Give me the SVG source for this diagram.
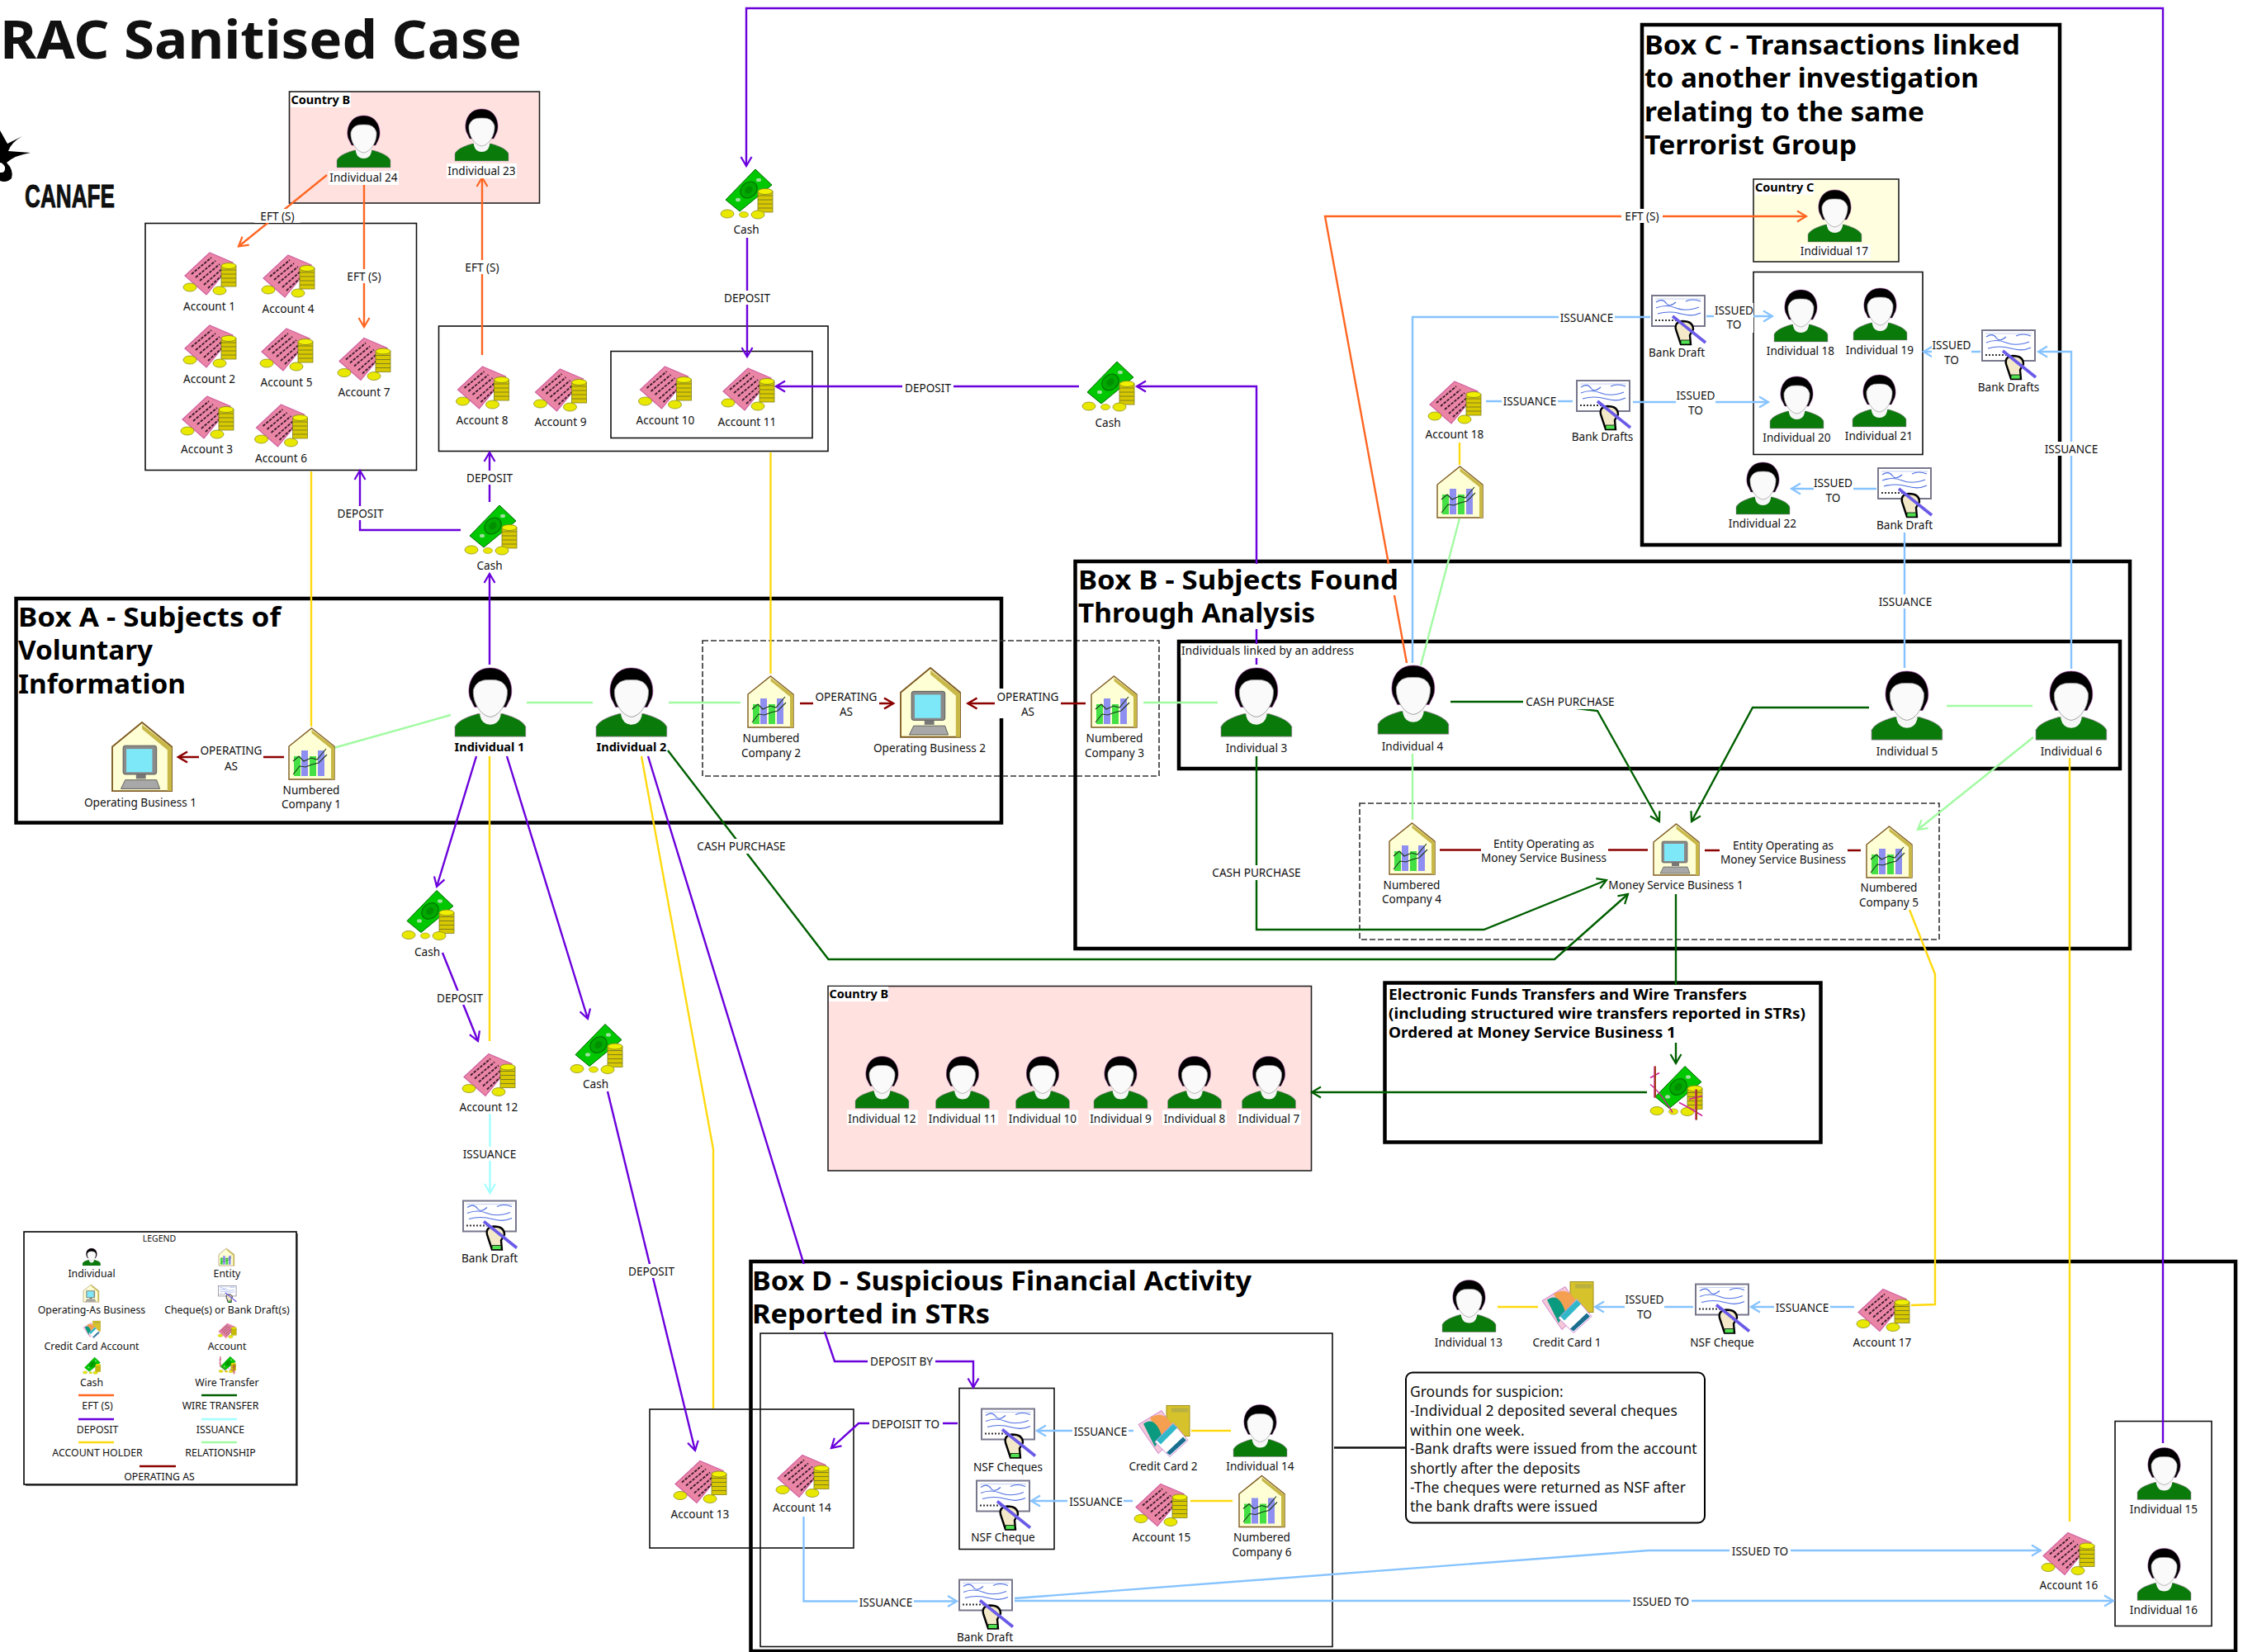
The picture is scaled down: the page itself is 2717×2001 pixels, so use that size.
<svg xmlns="http://www.w3.org/2000/svg" width="2717" height="2001" viewBox="0 0 2717 2001">
<style>
text{font-family:"Noto Sans","DejaVu Sans",sans-serif;fill:#111}
.l{font-size:13.6px;text-anchor:middle}
.lg{font-size:12.3px;text-anchor:middle}
.h{font-size:32px;font-weight:700;fill:#000}
.b{font-size:14.5px;font-weight:700;fill:#000}
.e{font-size:18px;font-weight:700;fill:#000}
.g{font-size:17.500px}
.bg{fill:#fff;stroke:none}
.box{fill:none;stroke:#111;stroke-width:1.6}
.big{fill:none;stroke:#000;stroke-width:4.5}
.dash{fill:none;stroke:#333;stroke-width:1.6;stroke-dasharray:7 3}
.pink{fill:#ffe2df;stroke:#222;stroke-width:1.6}
.c{fill:none;stroke-width:2.4;stroke-linejoin:miter}
.or{stroke:#ff6622}.pu{stroke:#6a00dc}.bl{stroke:#86c3ff}.cy{stroke:#a4ffff}.gr{stroke:#005f00}.re{stroke:#8b0000}.lgn{stroke:#a2fba2}.ye{stroke:#ffd90f}
</style>
<defs>
<marker id="m-or" markerUnits="userSpaceOnUse" markerWidth="18" markerHeight="18" refX="15" refY="9" orient="auto"><path d="M4 2.500L15 9L4 15.500" fill="none" stroke="#ff6622" stroke-width="2.200"/></marker>
<marker id="m-pu" markerUnits="userSpaceOnUse" markerWidth="18" markerHeight="18" refX="15" refY="9" orient="auto"><path d="M4 2.500L15 9L4 15.500" fill="none" stroke="#6a00dc" stroke-width="2.200"/></marker>
<marker id="m-bl" markerUnits="userSpaceOnUse" markerWidth="18" markerHeight="18" refX="15" refY="9" orient="auto"><path d="M4 2.500L15 9L4 15.500" fill="none" stroke="#86c3ff" stroke-width="2.200"/></marker>
<marker id="m-cy" markerUnits="userSpaceOnUse" markerWidth="18" markerHeight="18" refX="15" refY="9" orient="auto"><path d="M4 2.500L15 9L4 15.500" fill="none" stroke="#a4ffff" stroke-width="2.200"/></marker>
<marker id="m-gr" markerUnits="userSpaceOnUse" markerWidth="18" markerHeight="18" refX="15" refY="9" orient="auto"><path d="M4 2.500L15 9L4 15.500" fill="none" stroke="#005f00" stroke-width="2.200"/></marker>
<marker id="m-re" markerUnits="userSpaceOnUse" markerWidth="18" markerHeight="18" refX="15" refY="9" orient="auto"><path d="M4 2.500L15 9L4 15.500" fill="none" stroke="#8b0000" stroke-width="2.600"/></marker>
<marker id="m-lg" markerUnits="userSpaceOnUse" markerWidth="18" markerHeight="18" refX="15" refY="9" orient="auto"><path d="M4 2.500L15 9L4 15.500" fill="none" stroke="#a2fba2" stroke-width="2.200"/></marker>
<g id="person">
<path d="M0 63V54Q3 47 21 42L44 42Q62 47 65 54V63Z" fill="#0a7a0a" stroke="#b080b0" stroke-width=".5"/>
<path d="M23 36V44Q25 52 32.500 52Q40 52 42 44V36Z" fill="#f6f6f6"/>
<path d="M15 30C10 22 13 0 32.500 0C52 0 55 22 50 30L47 36H18Z" fill="#000" stroke="#a040a0" stroke-width=".5"/>
<path d="M17 20Q20 10 32.500 11Q45 10 48 20C49 32 41 44 32.500 45C24 44 16 32 17 20Z" fill="#fafafa" stroke="#999" stroke-width=".7"/>
</g>
<g id="coin"><ellipse cx="0" cy="0" rx="8" ry="5" fill="#e8e800" stroke="#8f8f20" stroke-width=".8"/></g>
<g id="stack">
<rect x="0" y="3" width="18" height="25" fill="#d8c800" stroke="#808020" stroke-width=".8"/>
<path d="M0 8H18M0 13H18M0 18H18M0 23H18" stroke="#808020" stroke-width="1" fill="none"/>
<ellipse cx="9" cy="3" rx="9" ry="3.500" fill="#f0f000" stroke="#808020" stroke-width=".8"/>
</g>
<g id="account">
<path d="M32 0L60 12L28 51L2 28Z" fill="#ea85a6" stroke="#d060a0" stroke-width="1.200"/>
<path d="M10 26L34 6M15 30L39 10M20 34L44 14M25 39L49 18M30 43L53 22" stroke="#3a1a2a" stroke-width="1.800" stroke-dasharray="3.500 1.500" fill="none"/>
<use href="#stack" x="46" y="13"/>
<use href="#coin" x="8" y="42"/><use href="#coin" x="44" y="46"/>
</g>
<g id="cash">
<path d="M43 0L63 19L24 51L7 37Z" fill="#00c800" stroke="#006a00" stroke-width="1"/>
<ellipse cx="35" cy="25" rx="11" ry="9" transform="rotate(-40 35 25)" fill="#00a800" stroke="#006a00"/>
<ellipse cx="35" cy="25" rx="5" ry="4" transform="rotate(-40 35 25)" fill="#009000"/>
<ellipse cx="47" cy="13" rx="3" ry="2.200" fill="#9fe09f"/><ellipse cx="22" cy="37" rx="3" ry="2.200" fill="#9fe09f"/>
<use href="#stack" x="46" y="24"/>
<use href="#coin" x="9" y="54"/><use href="#coin" transform="translate(29 55) scale(.7)"/><use href="#coin" x="46" y="55"/>
</g>
<g id="house">
<path d="M27.500 0L55 22V62H0V22Z" fill="#ffffd6" stroke="#7d5a20" stroke-width="1.400"/>
<path d="M27.500 2L55 23V62H51V25L27.500 6Z" fill="#c8b848"/>
</g>
<g id="entity">
<use href="#house"/>
<rect x="6" y="34" width="8" height="24" fill="#44e044"/><rect x="15" y="27" width="8" height="31" fill="#8f8ff2"/><rect x="25" y="34" width="8" height="24" fill="#44e044"/><rect x="35" y="27" width="8" height="31" fill="#8f8ff2"/>
<path d="M5 40L12 34L18 40L27 36L34 38L45 25M5 56L13 46L20 47L28 44L36 42L46 32" fill="none" stroke="#1a3a1a" stroke-width="1.100"/>
</g>
<g id="opbiz">
<use href="#house"/>
<rect x="10" y="21" width="31" height="26" rx="2" fill="#8a8a8a" stroke="#444" stroke-width=".6"/>
<rect x="13" y="24" width="24" height="21" fill="#7de8f8"/>
<rect x="22" y="47" width="9" height="4" fill="#777"/>
<path d="M8 60L12 52H41L44 60Z" fill="#a8a8a8" stroke="#444" stroke-width=".6"/>
</g>
<g id="cheque">
<rect x="1" y="1" width="64" height="37" fill="#fff" stroke="#77778c" stroke-width="2"/>
<path d="M5 5H61" stroke="#c4d0f0" stroke-width="1"/>
<path d="M6 9Q14 4 18 10T30 9M42 8Q50 4 60 8M6 16Q18 11 30 16T58 15M8 23Q22 19 36 23T60 22" fill="none" stroke="#4f6fe0" stroke-width="1.200"/>
<path d="M5 31H32" stroke="#333" stroke-width="1.800" stroke-dasharray="2 2"/>
<path d="M36 60L30 42Q28 33 38 32Q51 32 51 42L47 49L48 60Z" fill="#f3e9c8" stroke="#000" stroke-width="2.400"/>
<path d="M36 60V55H47V60Z" fill="#50e050" stroke="#000" stroke-width=".8"/>
<path d="M26 26L66 58" stroke="#6a5ae8" stroke-width="3.600"/>
</g>
<g id="card">
<rect x="36" y="0" width="28" height="37" fill="#d6c22a" stroke="#a09020"/>
<path d="M42 3H62V8H42Z" fill="#b8b040"/>
<path d="M2 23L30 6L50 36L26 58Z" fill="#f5c8d8" stroke="#d080d0"/>
<path d="M16 15Q34 4 44 26L28 36Z" fill="#f4a050"/><path d="M8 22Q22 12 30 36L22 50Z" fill="#0a9a80"/>
<path d="M22 44L44 21L62 42L40 62Z" fill="#fff" stroke="#d080d0"/>
<path d="M24 42L44 22L49 27L29 47Z" fill="#30b8c8"/><path d="M36 57L56 38L60 42L40 60Z" fill="#1a6f90"/>
</g>
<g id="wire">
<use href="#cash" transform="translate(2 0) scale(1)"/>
<path d="M3 14L14 8M8 0V38M3 22Q14 30 30 56M58 28V65M50 40L66 36M38 44Q50 50 66 60" fill="none" stroke="#d0209a" stroke-width="1.500"/>
<path d="M9 0V38M59 28V65" fill="none" stroke="#a0401a" stroke-width="2"/>
</g>
</defs>

<rect width="2717" height="2001" fill="#fff"/>

<g id="regions">
<rect class="pink" x="350.500" y="111" width="303" height="135"/>
<rect class="box" x="176" y="270.500" width="328.500" height="299"/>
<rect class="box" x="531.500" y="395" width="471.500" height="151.500"/>
<rect class="box" x="740" y="425.500" width="244" height="105"/>
<rect class="big" x="19.500" y="725" width="1193.500" height="271.500"/>
<rect class="dash" x="851" y="776" width="553" height="164"/>
<rect class="big" x="1302.500" y="680" width="1277.500" height="469"/>
<rect class="big" x="1428" y="777" width="1140" height="154"/>
<rect class="dash" x="1647" y="973" width="702" height="165"/>
<rect class="big" x="1989" y="30" width="506" height="630"/>
<rect x="2124" y="217" width="176" height="100" fill="#ffffe0" stroke="#222" stroke-width="1.600"/>
<rect class="box" x="2124" y="329.500" width="205" height="221"/>
<rect class="pink" x="1003" y="1194.500" width="585.500" height="223.500"/>
<rect class="big" x="1677.500" y="1190.500" width="528" height="193"/>
<rect class="big" x="909.500" y="1528" width="1798.500" height="472"/>
<rect class="box" x="921" y="1615" width="693" height="379.500"/>
<rect class="box" x="787" y="1707" width="247" height="168"/>
<rect class="box" x="1162" y="1681.500" width="115" height="195"/>
<rect class="box" x="2562" y="1721.500" width="117" height="248"/>
<rect x="1703" y="1662.500" width="362" height="182" rx="8" fill="#fff" stroke="#000" stroke-width="2"/>
</g>

<g id="connectors">
<path class="c or" d="M396 212L289 298.500" marker-end="url(#m-or)"/>
<path class="c or" d="M441 224V396" marker-end="url(#m-or)"/>
<path class="c or" d="M584 430V215" marker-end="url(#m-or)"/>
<path class="c or" d="M1704 803L1605 262H2188" marker-end="url(#m-or)"/>
<path class="c pu" d="M2620 1748V10H904V201" marker-end="url(#m-pu)"/>
<path class="c pu" d="M905 288V432" marker-end="url(#m-pu)"/>
<path class="c pu" d="M1307 468H940" marker-end="url(#m-pu)"/>
<path class="c pu" d="M1522 805V468H1377" marker-end="url(#m-pu)"/>
<path class="c pu" d="M593 608V548" marker-end="url(#m-pu)"/>
<path class="c pu" d="M558 642H436V570" marker-end="url(#m-pu)"/>
<path class="c pu" d="M593 805V695" marker-end="url(#m-pu)"/>
<path class="c pu" d="M577 916L529 1074" marker-end="url(#m-pu)"/>
<path class="c pu" d="M614 916L712 1234" marker-end="url(#m-pu)"/>
<path class="c pu" d="M536 1154L579 1261" marker-end="url(#m-pu)"/>
<path class="c pu" d="M736 1322L842 1757" marker-end="url(#m-pu)"/>
<path class="c pu" d="M785 916L998.500 1612L1011 1649H1179V1680.500" marker-end="url(#m-pu)"/>
<path class="c pu" d="M1160 1724H1053H1040L1007 1754" marker-end="url(#m-pu)"/>
<path class="c ye" d="M377 571V880"/>
<path class="c ye" d="M933.500 548V816"/>
<path class="c ye" d="M593 916V1261"/>
<path class="c ye" d="M777 916L864 1392V1706"/>
<path class="c ye" d="M2313 1102L2344 1180V1580L2315 1581"/>
<path class="c ye" d="M2507 918V1843"/>
<path class="c ye" d="M1768 536V563"/>
<path class="c ye" d="M1443 1733H1491"/>
<path class="c ye" d="M1442 1818H1493"/>
<path class="c ye" d="M1814 1583H1863"/>
<path class="c lgn" d="M404 906L546 866"/>
<path class="c lgn" d="M638 851H718"/>
<path class="c lgn" d="M810 851H897"/>
<path class="c lgn" d="M1385 851H1475"/>
<path class="c lgn" d="M2358 855H2462"/>
<path class="c lgn" d="M1711 913V993"/>
<path class="c lgn" d="M1768 628L1721 806"/>
<path class="c lgn" d="M2463 893L2323 1005" marker-end="url(#m-lg)"/>
<path class="c re" d="M344 917H216" marker-end="url(#m-re)"/>
<path class="c re" d="M969 852H1082" marker-end="url(#m-re)"/>
<path class="c re" d="M1315 852H1172.500" marker-end="url(#m-re)"/>
<path class="c re" d="M1744 1029.500H1996"/>
<path class="c re" d="M2065 1030H2254"/>
<path class="c gr" d="M1757 850H1845L1935 861L2010 995" marker-end="url(#m-gr)"/>
<path class="c gr" d="M2264 857H2123L2049 995" marker-end="url(#m-gr)"/>
<path class="c gr" d="M1522 916V1126H1797.500L1946 1066" marker-end="url(#m-gr)"/>
<path class="c gr" d="M809 909L1003.500 1162H1883L1972 1083" marker-end="url(#m-gr)"/>
<path class="c gr" d="M2030 1083V1288" marker-end="url(#m-gr)"/>
<path class="c gr" d="M1995 1323H1589" marker-end="url(#m-gr)"/>
<path class="c bl" d="M1711 803V384H1999"/>
<path class="c bl" d="M2067 383H2147" marker-end="url(#m-bl)"/>
<path class="c bl" d="M2399 426H2330" marker-end="url(#m-bl)"/>
<path class="c bl" d="M2509 810V426H2469" marker-end="url(#m-bl)"/>
<path class="c bl" d="M2273 592H2170" marker-end="url(#m-bl)"/>
<path class="c bl" d="M2307 645V809"/>
<path class="c bl" d="M1978 487H2142" marker-end="url(#m-bl)"/>
<path class="c bl" d="M1800 486H1905"/>
<path class="c bl" d="M2051 1583H1932" marker-end="url(#m-bl)"/>
<path class="c bl" d="M2246 1583H2121" marker-end="url(#m-bl)"/>
<path class="c bl" d="M1373 1733H1256" marker-end="url(#m-bl)"/>
<path class="c bl" d="M1372 1818H1249" marker-end="url(#m-bl)"/>
<path class="c bl" d="M973.500 1837V1939.500H1159" marker-end="url(#m-bl)"/>
<path class="c bl" d="M1229 1939H2560" marker-end="url(#m-bl)"/>
<path class="c bl" d="M1229 1936L1997 1878H2472" marker-end="url(#m-bl)"/>
<path class="c cy" d="M593.500 1349V1445" marker-end="url(#m-cy)"/>
<path class="c" stroke="#111" d="M1616 1753.500H1703"/>
<g id="connector-labels">
<rect class="bg" x="308" y="253" width="56" height="17"/><text class="l" x="336" y="267">EFT (S)</text>
<rect class="bg" x="413" y="326" width="56" height="17"/><text class="l" x="441" y="340">EFT (S)</text>
<rect class="bg" x="556" y="315" width="56" height="17"/><text class="l" x="584" y="329">EFT (S)</text>
<rect class="bg" x="1964" y="253" width="50" height="17"/><text class="l" x="1989" y="267">EFT (S)</text>
<rect class="bg" x="874" y="352" width="62" height="17"/><text class="l" x="905" y="366">DEPOSIT</text>
<rect class="bg" x="1093" y="461" width="62" height="17"/><text class="l" x="1124" y="475">DEPOSIT</text>
<rect class="bg" x="562" y="570" width="62" height="17"/><text class="l" x="593" y="584">DEPOSIT</text>
<rect class="bg" x="405" y="613" width="62" height="17"/><text class="l" x="436.500" y="627">DEPOSIT</text>
<rect class="bg" x="526" y="1200" width="62" height="17"/><text class="l" x="557" y="1214">DEPOSIT</text>
<rect class="bg" x="758" y="1531" width="62" height="17"/><text class="l" x="789" y="1545">DEPOSIT</text>
<rect class="bg" x="1051" y="1640" width="82" height="17"/><text class="l" x="1092" y="1654">DEPOSIT BY</text>
<rect class="bg" x="1053" y="1716" width="89" height="17"/><text class="l" x="1097" y="1730">DEPOISIT TO</text>
<rect class="bg" x="241" y="899" width="78" height="38"/><text class="l" x="280" y="914">OPERATING</text><text class="l" x="280" y="933">AS</text>
<rect class="bg" x="985" y="834" width="80" height="36"/><text class="l" x="1025" y="849">OPERATING</text><text class="l" x="1025" y="867">AS</text>
<rect class="bg" x="1205" y="834" width="80" height="36"/><text class="l" x="1245" y="849">OPERATING</text><text class="l" x="1245" y="867">AS</text>
<rect class="bg" x="1794" y="1013" width="154" height="36"/><text class="l" x="1870" y="1027">Entity Operating as</text><text class="l" x="1870" y="1044">Money Service Business</text>
<rect class="bg" x="2083" y="1015" width="155" height="36"/><text class="l" x="2160" y="1029">Entity Operating as</text><text class="l" x="2160" y="1046">Money Service Business</text>
<rect class="bg" x="1845" y="841" width="112" height="18"/><text class="l" x="1902" y="855">CASH PURCHASE</text>
<rect class="bg" x="1465" y="1048" width="114" height="18"/><text class="l" x="1522" y="1062">CASH PURCHASE</text>
<rect class="bg" x="841" y="1016" width="114" height="18"/><text class="l" x="898" y="1030">CASH PURCHASE</text>
<rect class="bg" x="1888" y="376" width="68" height="17"/><text class="l" x="1922" y="390">ISSUANCE</text>
<rect class="bg" x="2076" y="367" width="48" height="36"/><text class="l" x="2100.500" y="381">ISSUED</text><text class="l" x="2100.500" y="398">TO</text>
<rect class="bg" x="2340" y="409" width="48" height="36"/><text class="l" x="2364" y="423">ISSUED</text><text class="l" x="2364" y="441">TO</text>
<rect class="bg" x="2475" y="535" width="68" height="17"/><text class="l" x="2509" y="549">ISSUANCE</text>
<rect class="bg" x="2197" y="576" width="48" height="36"/><text class="l" x="2220.500" y="590">ISSUED</text><text class="l" x="2220.500" y="608">TO</text>
<rect class="bg" x="2274" y="720" width="68" height="17"/><text class="l" x="2308" y="734">ISSUANCE</text>
<rect class="bg" x="2030" y="470" width="48" height="36"/><text class="l" x="2054" y="484">ISSUED</text><text class="l" x="2054" y="502">TO</text>
<rect class="bg" x="1819" y="477" width="68" height="17"/><text class="l" x="1853" y="491">ISSUANCE</text>
<rect class="bg" x="1968" y="1565" width="48" height="36"/><text class="l" x="1992" y="1579">ISSUED</text><text class="l" x="1992" y="1597">TO</text>
<rect class="bg" x="2149" y="1575" width="68" height="17"/><text class="l" x="2183" y="1589">ISSUANCE</text>
<rect class="bg" x="1299" y="1725" width="68" height="17"/><text class="l" x="1333" y="1739">ISSUANCE</text>
<rect class="bg" x="1293" y="1810" width="68" height="17"/><text class="l" x="1327.500" y="1824">ISSUANCE</text>
<rect class="bg" x="1039" y="1932" width="68" height="17"/><text class="l" x="1073" y="1946">ISSUANCE</text>
<rect class="bg" x="559" y="1389" width="68" height="17"/><text class="l" x="593" y="1403">ISSUANCE</text>
<rect class="bg" x="1975" y="1931" width="74" height="17"/><text class="l" x="2012" y="1945">ISSUED TO</text>
<rect class="bg" x="2095" y="1870" width="74" height="17"/><text class="l" x="2132" y="1884">ISSUED TO</text>
</g>
</g>

<g id="titles">
<text x="0" y="71" font-size="64" font-weight="700" fill="#000" textLength="632" lengthAdjust="spacingAndGlyphs">RAC Sanitised Case</text>
<g id="logo"><path d="M0 158L9 174L27 165Q14 172 10 183L37 185Q18 188 8 197Q17 206 14 216Q8 222 0 219V209Q7 210 6 202Q3 197 0 197Z" fill="#000"/>
<text x="30" y="251" font-size="38" font-weight="700" fill="#000" style="font-family:'Liberation Sans',sans-serif" stroke="#000" stroke-width=".8" textLength="109" lengthAdjust="spacingAndGlyphs">CANAFE</text></g>
<g id="box-a-title"><text class="h" x="22" y="759" textLength="318" lengthAdjust="spacingAndGlyphs">Box A - Subjects of</text><text class="h" x="22" y="799" textLength="163" lengthAdjust="spacingAndGlyphs">Voluntary</text><text class="h" x="22" y="840" textLength="203" lengthAdjust="spacingAndGlyphs">Information</text></g>
<g id="box-b-title"><rect class="bg" x="1305" y="683" width="392" height="38"/><rect class="bg" x="1305" y="721" width="294" height="41"/><text class="h" x="1306" y="714" textLength="388" lengthAdjust="spacingAndGlyphs">Box B - Subjects Found</text><text class="h" x="1306" y="754" textLength="287" lengthAdjust="spacingAndGlyphs">Through Analysis</text>
<rect class="bg" x="1430" y="780" width="212" height="17"/><text x="1431" y="793" font-size="13.600" textLength="209">Individuals linked by an address</text></g>
<g id="box-c-title"><text class="h" x="1992" y="66" textLength="455" lengthAdjust="spacingAndGlyphs">Box C - Transactions linked</text><text class="h" x="1992" y="106" textLength="405" lengthAdjust="spacingAndGlyphs">to another investigation</text><text class="h" x="1992" y="147" textLength="339" lengthAdjust="spacingAndGlyphs">relating to the same</text><text class="h" x="1992" y="187" textLength="257" lengthAdjust="spacingAndGlyphs">Terrorist Group</text></g>
<g id="box-d-title"><rect class="bg" x="912" y="1531" width="606" height="82"/><text class="h" x="911" y="1563" textLength="605" lengthAdjust="spacingAndGlyphs">Box D - Suspicious Financial Activity</text><text class="h" x="911" y="1603" textLength="288" lengthAdjust="spacingAndGlyphs">Reported in STRs</text></g>
<g id="eft-title"><rect class="bg" x="1680" y="1193" width="522" height="70"/><text class="e" x="1682" y="1211" textLength="434" lengthAdjust="spacingAndGlyphs">Electronic Funds Transfers and Wire Transfers</text><text class="e" x="1682" y="1234" textLength="505" lengthAdjust="spacingAndGlyphs">(including structured wire transfers reported in STRs)</text><text class="e" x="1682" y="1257" textLength="348" lengthAdjust="spacingAndGlyphs">Ordered at Money Service Business 1</text></g>
<rect class="bg" x="352" y="112" width="73" height="18"/><text class="b" x="352.500" y="125.500">Country B</text>
<rect class="bg" x="1004" y="1195" width="72" height="18"/><text class="b" x="1004.500" y="1209">Country B</text>
<rect class="bg" x="2125" y="218" width="72" height="18"/><text class="b" x="2126" y="232">Country C</text>
<g id="grounds"><text class="g" x="1708" y="1691.500">Grounds for suspicion:</text><text class="g" x="1708" y="1714.500">-Individual 2 deposited several cheques</text><text class="g" x="1708" y="1738.500">within one week.</text><text class="g" x="1708" y="1760.500">-Bank drafts were issued from the account</text><text class="g" x="1708" y="1784.500">shortly after the deposits</text><text class="g" x="1708" y="1807.500">-The cheques were returned as NSF after</text><text class="g" x="1708" y="1830.500">the bank drafts were issued</text></g>
</g>

<g id="nodes">
<g id="ind1"><use href="#person" transform="translate(551 809) scale(1.32)"/><text class="b" x="593" y="910" text-anchor="middle">Individual 1</text></g>
<g id="ind2"><use href="#person" transform="translate(722 809) scale(1.32)"/><text class="b" x="765" y="910" text-anchor="middle">Individual 2</text></g>
<g id="ind3"><use href="#person" transform="translate(1479 809) scale(1.32)"/><text class="l" x="1522" y="910.500">Individual 3</text></g>
<g id="ind4"><use href="#person" transform="translate(1669 806) scale(1.32)"/><text class="l" x="1711" y="908.500">Individual 4</text></g>
<g id="ind5"><use href="#person" transform="translate(2267 813) scale(1.32)"/><text class="l" x="2310" y="914.500">Individual 5</text></g>
<g id="ind6"><use href="#person" transform="translate(2466 813) scale(1.32)"/><text class="l" x="2509" y="914.500">Individual 6</text></g>
<g id="ind17"><use href="#person" x="2190" y="230"/><rect class="bg" x="2180" y="296" width="86" height="17"/><text class="l" x="2222" y="309">Individual 17</text></g>
<g id="ind18"><use href="#person" x="2149" y="351"/><text class="l" x="2181" y="430">Individual 18</text></g>
<g id="ind19"><use href="#person" x="2245" y="349"/><text class="l" x="2277" y="429">Individual 19</text></g>
<g id="ind20"><use href="#person" x="2144" y="456"/><text class="l" x="2176.500" y="535">Individual 20</text></g>
<g id="ind21"><use href="#person" x="2244" y="454"/><text class="l" x="2276" y="533">Individual 21</text></g>
<g id="ind22"><use href="#person" x="2103" y="560"/><text class="l" x="2135" y="639">Individual 22</text></g>
<g id="ind23"><use href="#person" x="551" y="132"/><rect class="bg" x="541" y="198" width="85" height="18"/><text class="l" x="583.500" y="212">Individual 23</text></g>
<g id="ind24"><use href="#person" x="408" y="140"/><rect class="bg" x="398" y="207" width="85" height="17"/><text class="l" x="440.500" y="220">Individual 24</text></g>
<g id="acc1"><use href="#account" x="222" y="306"/><text class="l" x="253.500" y="376">Account 1</text></g>
<g id="acc2"><use href="#account" x="222" y="394"/><text class="l" x="253.500" y="464">Account 2</text></g>
<g id="acc3"><use href="#account" x="219" y="480"/><text class="l" x="250.500" y="549">Account 3</text></g>
<g id="acc4"><use href="#account" x="317" y="309"/><text class="l" x="349" y="379">Account 4</text></g>
<g id="acc5"><use href="#account" x="315" y="398"/><text class="l" x="347" y="468">Account 5</text></g>
<g id="acc6"><use href="#account" x="308.500" y="490"/><text class="l" x="340.500" y="559.500">Account 6</text></g>
<g id="acc7"><use href="#account" x="409" y="409.500"/><text class="l" x="441" y="480">Account 7</text></g>
<g id="acc8"><use href="#account" x="552.500" y="444"/><text class="l" x="584" y="513.500">Account 8</text></g>
<g id="acc9"><use href="#account" x="646.500" y="447"/><text class="l" x="679" y="516">Account 9</text></g>
<g id="acc10"><use href="#account" x="773.500" y="444"/><text class="l" x="806" y="513.500">Account 10</text></g>
<g id="acc11"><use href="#account" x="874" y="446"/><text class="l" x="905" y="515.500">Account 11</text></g>
<g id="acc18"><use href="#account" x="1730" y="462"/><text class="l" x="1762" y="530.500">Account 18</text></g>
<g id="cash1"><use href="#cash" x="872" y="205"/><text class="l" x="904" y="283">Cash</text></g>
<g id="cash2"><use href="#cash" x="1310" y="438"/><text class="l" x="1342" y="517">Cash</text></g>
<g id="cash3"><use href="#cash" x="562" y="612"/><text class="l" x="593" y="690">Cash</text></g>
<g id="nc1"><use href="#entity" x="350" y="882"/><text class="l" x="377" y="962">Numbered</text><text class="l" x="377" y="979">Company 1</text></g>
<g id="nc2"><use href="#entity" x="906" y="819"/><text class="l" x="934" y="899">Numbered</text><text class="l" x="934" y="917">Company 2</text></g>
<g id="nc3"><use href="#entity" x="1322" y="819"/><text class="l" x="1350" y="899">Numbered</text><text class="l" x="1350" y="917">Company 3</text></g>
<g id="nc4"><use href="#entity" x="1683" y="997"/><text class="l" x="1710" y="1077">Numbered</text><text class="l" x="1710" y="1094">Company 4</text></g>
<g id="nc5"><use href="#entity" x="2261" y="1001"/><text class="l" x="2288" y="1080">Numbered</text><text class="l" x="2288" y="1098">Company 5</text></g>
<g id="entity18"><use href="#entity" x="1741" y="565"/></g>
<g id="ob1"><use href="#opbiz" transform="translate(136 875) scale(1.31 1.34)"/><text class="l" x="170" y="977">Operating Business 1</text></g>
<g id="ob2"><use href="#opbiz" transform="translate(1091 809) scale(1.31 1.35)"/><text class="l" x="1126" y="911">Operating Business 2</text></g>
<g id="msb1"><use href="#opbiz" x="2003" y="998"/><text class="l" x="2030" y="1077">Money Service Business 1</text></g>
<g id="draft1"><use href="#cheque" x="2000" y="357"/><text class="l" x="2031" y="431.500">Bank Draft</text></g>
<g id="drafts2"><use href="#cheque" x="2400" y="399"/><text class="l" x="2433" y="473.500">Bank Drafts</text></g>
<g id="draft3"><use href="#cheque" x="2274" y="566"/><text class="l" x="2307" y="641">Bank Draft</text></g>
<g id="drafts4"><use href="#cheque" x="1909" y="460"/><text class="l" x="1941" y="534">Bank Drafts</text></g>
<g transform="translate(0 1.500)">
<g id="cash4"><use href="#cash" x="486" y="1077"/><text class="l" x="517.500" y="1156">Cash</text></g>
<g id="cash5"><use href="#cash" x="690" y="1239"/><text class="l" x="721.500" y="1316">Cash</text></g>
<g id="ind7"><use href="#person" x="1504.500" y="1278"/><rect class="bg" x="1498" y="1343" width="78" height="18"/><text class="l" x="1537" y="1358">Individual 7</text></g>
<g id="ind8"><use href="#person" x="1414.500" y="1278"/><rect class="bg" x="1408" y="1343" width="78" height="18"/><text class="l" x="1447" y="1358">Individual 8</text></g>
<g id="ind9"><use href="#person" x="1325" y="1278"/><rect class="bg" x="1319" y="1343" width="78" height="18"/><text class="l" x="1357.500" y="1358">Individual 9</text></g>
<g id="ind10"><use href="#person" x="1230.500" y="1278"/><rect class="bg" x="1220" y="1343" width="86" height="18"/><text class="l" x="1263" y="1358">Individual 10</text></g>
<g id="ind11"><use href="#person" x="1133.500" y="1278"/><rect class="bg" x="1123" y="1343" width="86" height="18"/><text class="l" x="1166" y="1358">Individual 11</text></g>
<g id="ind12"><use href="#person" x="1036" y="1278"/><rect class="bg" x="1026" y="1343" width="86" height="18"/><text class="l" x="1068.500" y="1358">Individual 12</text></g>
<g id="ind13"><use href="#person" x="1747" y="1549"/><text class="l" x="1779" y="1629">Individual 13</text></g>
<g id="ind14"><use href="#person" x="1494" y="1700"/><text class="l" x="1526.500" y="1779">Individual 14</text></g>
<g id="ind15"><use href="#person" x="2589" y="1752"/><text class="l" x="2621" y="1831">Individual 15</text></g>
<g id="ind16"><use href="#person" x="2589" y="1874"/><text class="l" x="2621" y="1953">Individual 16</text></g>
<g id="acc12"><use href="#account" x="560" y="1275"/><text class="l" x="592" y="1344">Account 12</text></g>
<g id="acc13"><use href="#account" x="816" y="1768"/><text class="l" x="848" y="1837">Account 13</text></g>
<g id="acc14"><use href="#account" x="940" y="1761"/><text class="l" x="971.500" y="1829">Account 14</text></g>
<g id="acc15"><use href="#account" x="1374" y="1796"/><text class="l" x="1407" y="1865">Account 15</text></g>
<g id="acc16"><use href="#account" x="2473" y="1855"/><text class="l" x="2506" y="1923">Account 16</text></g>
<g id="acc17"><use href="#account" x="2249" y="1560"/><text class="l" x="2280" y="1629">Account 17</text></g>
<g id="nc6"><use href="#entity" x="1501" y="1786"/><text class="l" x="1528.500" y="1865">Numbered</text><text class="l" x="1528.500" y="1883">Company 6</text></g>
<g id="draft5"><use href="#cheque" x="560" y="1452"/><text class="l" x="593" y="1527">Bank Draft</text></g>
<g id="draft6"><use href="#cheque" x="1161" y="1911"/><text class="l" x="1193" y="1986">Bank Draft</text></g>
<g id="nsf1"><use href="#cheque" x="1188" y="1704"/><text class="l" x="1221" y="1780">NSF Cheques</text></g>
<g id="nsf2"><use href="#cheque" x="1182" y="1791"/><text class="l" x="1215" y="1865">NSF Cheque</text></g>
<g id="nsf3"><use href="#cheque" x="2053" y="1553"/><text class="l" x="2086" y="1629">NSF Cheque</text></g>
<g id="cc1"><use href="#card" x="1866" y="1551"/><text class="l" x="1898" y="1629">Credit Card 1</text></g>
<g id="cc2"><use href="#card" x="1377" y="1701"/><text class="l" x="1409" y="1779">Credit Card 2</text></g>
<g id="wire1"><use href="#wire" x="1996" y="1290"/></g>
</g>
</g>

<g id="legend">
<rect x="31" y="1494" width="330" height="306" fill="#777"/>
<rect x="29" y="1492" width="330" height="306" fill="#fff" stroke="#000" stroke-width="1.600"/>
<text class="lg" x="193" y="1504" style="font-size:10.500px">LEGEND</text>
<use href="#person" transform="translate(100 1512) scale(.335)"/><text class="lg" x="111" y="1547">Individual</text>
<use href="#entity" transform="translate(265 1512) scale(.34)"/><text class="lg" x="275" y="1547">Entity</text>
<use href="#opbiz" transform="translate(101 1556) scale(.34)"/><text class="lg" x="111" y="1591">Operating-As Business</text>
<use href="#cheque" transform="translate(264 1557) scale(.34)"/><text class="lg" x="275" y="1591">Cheque(s) or Bank Draft(s)</text>
<use href="#card" transform="translate(100 1600) scale(.34)"/><text class="lg" x="111" y="1635">Credit Card Account</text>
<use href="#account" transform="translate(264 1603) scale(.35)"/><text class="lg" x="275" y="1635">Account</text>
<use href="#cash" transform="translate(100 1644) scale(.34)"/><text class="lg" x="111" y="1679">Cash</text>
<use href="#wire" transform="translate(264 1643) scale(.33)"/><text class="lg" x="275" y="1679">Wire Transfer</text>
<path class="c or" d="M95 1690H138"/><text class="lg" x="118" y="1707">EFT (S)</text>
<path class="c gr" d="M244 1690H287"/><text class="lg" x="267" y="1707">WIRE TRANSFER</text>
<path class="c pu" d="M95 1719H138"/><text class="lg" x="118" y="1736">DEPOSIT</text>
<path class="c cy" d="M244 1719H287"/><text class="lg" x="267" y="1736">ISSUANCE</text>
<path class="c ye" d="M95 1747H138"/><text class="lg" x="118" y="1764">ACCOUNT HOLDER</text>
<path class="c lgn" d="M244 1747H287"/><text class="lg" x="267" y="1764">RELATIONSHIP</text>
<path class="c re" d="M169 1776H213"/><text class="lg" x="193" y="1793">OPERATING AS</text>
</g>
</svg>
